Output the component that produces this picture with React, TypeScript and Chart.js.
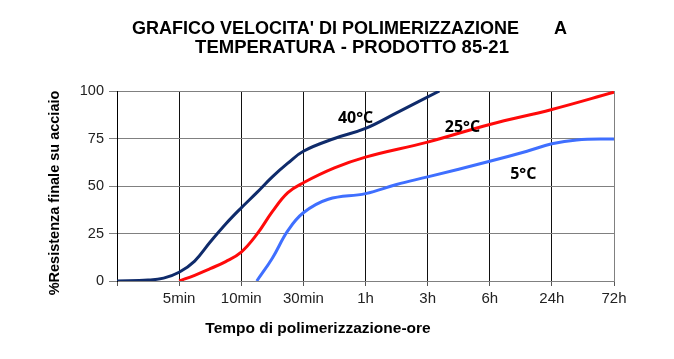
import React, { useEffect, useRef } from "react";
import { Chart, registerables } from "chart.js";

Chart.register(...registerables);

const TITLE_LINE1 = "GRAFICO VELOCITA' DI POLIMERIZZAZIONE       A";
const TITLE_LINE2 = "TEMPERATURA - PRODOTTO 85-21";
const X_TITLE = "Tempo di polimerizzazione-ore";
const Y_TITLE = "%Resistenza finale su acciaio";

const xTickLabels = ["", "5min", "10min", "30min", "1h", "3h", "6h", "24h", "72h"];
const yTicks = [0, 25, 50, 75, 100];

const series40Label = "40°C";
const series40X = [0, 0.5, 0.75, 1.0, 1.25, 1.5, 1.75, 2.0, 2.25, 2.5, 2.75, 3.0, 3.5, 4.0, 4.5, 5.19];
const series40Y = [0, 0.5, 1.5, 4.6, 10.5, 20.5, 30, 38.5, 46.5, 54.8, 62, 68.3, 75, 80.3, 88.5, 100];

const series25Label = "25°C";
const series25X = [1.0, 1.25, 1.5, 1.75, 2.0, 2.25, 2.5, 2.75, 3.0, 3.5, 4.0, 5.0, 6.0, 7.0, 8.0];
const series25Y = [0, 3, 6.5, 10.2, 15.2, 24.5, 36.5, 46.5, 51.7, 59.5, 65.2, 73.1, 82.4, 90.3, 99.4];

const series5Label = "5°C";
const series5X = [2.25, 2.5, 2.75, 3.0, 3.4, 4.0, 4.5, 5.0, 6.0, 6.6, 7.0, 7.4, 8.0];
const series5Y = [0, 12, 26.5, 35.9, 43, 46, 50.8, 54.8, 63, 68.3, 72.2, 74.2, 74.8];

const toPoints = (xs: number[], ys: number[]) => xs.map((x, i) => ({ x, y: ys[i] }));

const textPlugin = {
  id: "customTexts",
  afterDatasetsDraw(chart: any) {
    const ctx = chart.ctx as CanvasRenderingContext2D;
    const xs = chart.scales.x;
    const ys = chart.scales.y;
    ctx.save();
    ctx.fillStyle = "#000";
    ctx.textBaseline = "middle";
    ctx.font = "bold 16px 'Open Sans'";
    ctx.textAlign = "center";
    ctx.fillText(series40Label, xs.getPixelForValue(3.84), ys.getPixelForValue(85.5));
    ctx.fillText(series25Label, xs.getPixelForValue(5.56), ys.getPixelForValue(81));
    ctx.fillText(series5Label, xs.getPixelForValue(6.54), ys.getPixelForValue(56));
    ctx.restore();
  },
  afterDraw(chart: any) {
    const ctx = chart.ctx as CanvasRenderingContext2D;
    ctx.save();
    ctx.fillStyle = "#000";
    ctx.textBaseline = "middle";
    ctx.font = "bold 18px 'Liberation Sans'";
    ctx.textAlign = "left";
    ctx.fillText(TITLE_LINE1, 132, 29);
    ctx.textAlign = "center";
    ctx.font = "bold 18.5px 'Liberation Sans'";
    ctx.fillText(TITLE_LINE2, 352, 48);
    ctx.font = "bold 15.5px 'Liberation Sans'";
    ctx.fillText(X_TITLE, 318, 329);
    ctx.translate(55, 193);
    ctx.rotate(-Math.PI / 2);
    ctx.font = "bold 14.5px 'Liberation Sans'";
    ctx.fillText(Y_TITLE, 0, 0);
    ctx.restore();
  },
};

export default function App() {
  const ref = useRef<HTMLCanvasElement>(null);
  useEffect(() => {
    if (!ref.current) return;
    const lineDefaults = { borderWidth: 3, pointRadius: 0, tension: 0.4 };
    const chart = new Chart(ref.current, {
      type: "line",
      data: {
        datasets: [
          { label: series40Label, data: toPoints(series40X, series40Y), borderColor: "#0f2b6b", ...lineDefaults },
          { label: series25Label, data: toPoints(series25X, series25Y), borderColor: "#ff0a0a", ...lineDefaults },
          { label: series5Label, data: toPoints(series5X, series5Y), borderColor: "#3f6fff", ...lineDefaults },
        ],
      },
      options: {
        animation: false,
        responsive: false,
        devicePixelRatio: 1,
        layout: { padding: { top: 91, right: 60, left: 0, bottom: 0 } },
        plugins: {
          legend: { display: false },
          title: { display: false },
          tooltip: { enabled: false },
        },
        scales: {
          x: {
            type: "linear",
            min: 0,
            max: 8,
            afterFit: (s: any) => {
              s.height = 78;
            },
            afterBuildTicks: (s: any) => {
              s.ticks = xTickLabels.map((_, i) => ({ value: i }));
            },
            ticks: {
              padding: 4,
              color: "#222",
              font: { family: "'Liberation Sans'", size: 15 },
              maxRotation: 0,
              autoSkip: false,
              callback: (v: any) => xTickLabels[Math.round(Number(v))] ?? "",
            },
            grid: {
              color: (c: any) => (c.tick && c.tick.value === 8 ? "#808080" : "#111"),
              tickColor: "#555",
              tickLength: 5,
              lineWidth: 1,
            },
            border: { color: "#808080", width: 1 },
          },
          y: {
            type: "linear",
            min: 0,
            max: 100,
            afterFit: (s: any) => {
              s.width = 117;
            },
            afterBuildTicks: (s: any) => {
              s.ticks = yTicks.map((v) => ({ value: v }));
            },
            ticks: {
              padding: 5,
              color: "#222",
              font: { family: "'Liberation Sans'", size: 14.5 },
            },
            grid: {
              color: "#808080",
              tickColor: "#808080",
              tickLength: 8,
              lineWidth: 1,
            },
            border: { color: "#000", width: 1 },
          },
        },
      } as any,
      plugins: [textPlugin],
    });
    return () => chart.destroy();
  }, []);
  return (
    <div style={{ position: "fixed", left: 0, top: 0, width: 674, height: 359, background: "#fff" }}>
      <canvas ref={ref} width={674} height={359} style={{ display: "block" }} />
    </div>
  );
}
